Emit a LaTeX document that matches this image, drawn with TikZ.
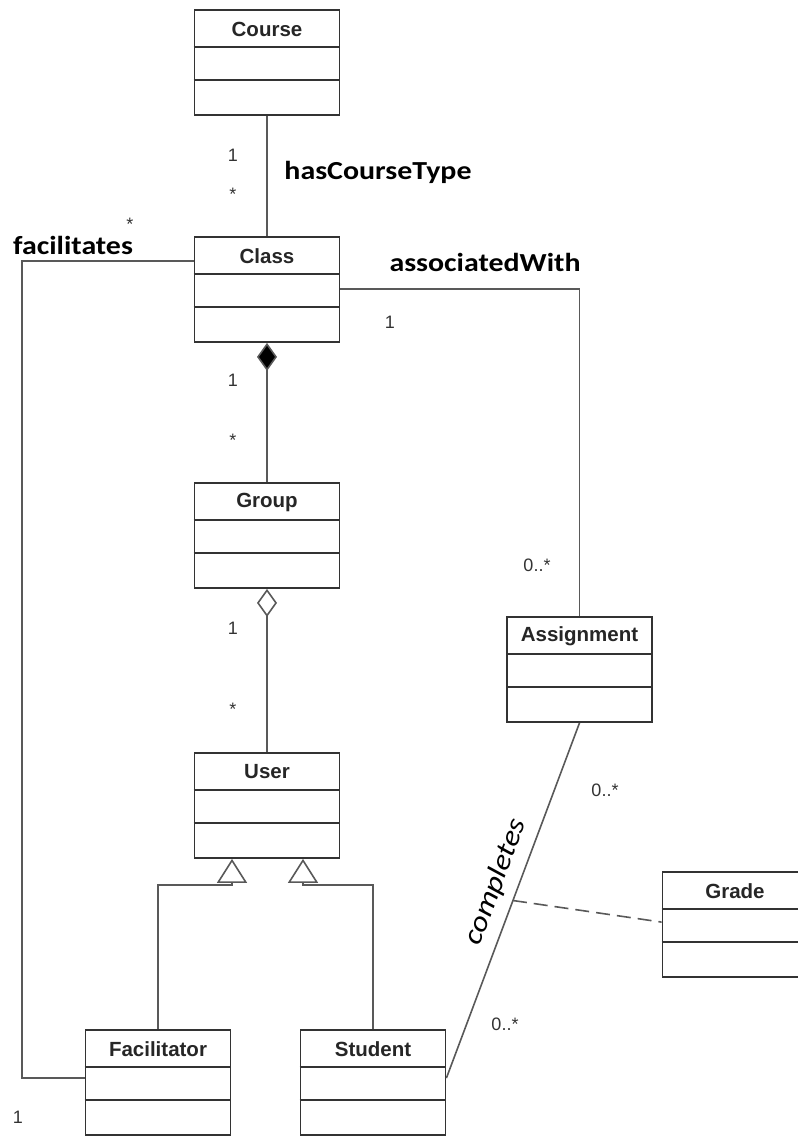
\documentclass[tikz,border=0pt]{standalone}
\usepackage{fontspec}
\setmainfont{Liberation Sans}
\newfontfamily\lblfont[FakeStretch=1.15]{Carlito}
\usetikzlibrary{arrows.meta,calc}
\tikzset{
  clsbox/.style={draw=black!80, line width=1.8pt, minimum width=145pt, minimum height=105pt, inner sep=0pt, fill=white},
  clsline/.style={draw=black!80, line width=1.8pt},
  clstitle/.style={font=\fontsize{20.5}{22}\selectfont\bfseries, text=black!85, inner sep=0pt},
  conn/.style={draw=black!65, line width=1.6pt},
  mult/.style={font=\fontsize{18}{20}\selectfont, text=black!80, inner sep=0pt},
  assoc/.style={font=\lblfont\fontsize{26}{28}\selectfont\bfseries, text=black, inner sep=0pt},
  comp/.style={font=\lblfont\fontsize{28}{30}\selectfont\itshape, text=black, inner sep=0pt},
}
\newcommand{\umlcls}[4]{%
  \node[clsbox] (#1) at (#3, #4+52.5) {};
  \draw[clsline] ([yshift=-38pt]#1.north west) -- ([yshift=-38pt]#1.north east);
  \draw[clsline] ([yshift=-71pt]#1.north west) -- ([yshift=-71pt]#1.north east);
  \node[clstitle] (#1-t) at (#3, #4+19) {#2};
}
\begin{document}
\begin{tikzpicture}[x=1pt, y=-1pt]
\useasboundingbox (0,0) rectangle (798,1136);
\clip (0,0) rectangle (798,1136);
\umlcls{course}{Course}{267}{10}
\umlcls{class}{Class}{267}{237}
\umlcls{group}{Group}{267}{483}
\umlcls{user}{User}{267}{753}
\umlcls{assignment}{Assignment}{579.5}{617}
\umlcls{grade}{Grade}{735}{872}
\umlcls{facilitator}{Facilitator}{158}{1030}
\umlcls{student}{Student}{373}{1030}

\draw[conn] (course.south) -- (class.north);
\draw[conn, -{Diamond[length=28pt, width=20pt, fill=black]}] (group.north) -- (class.south);
\draw[conn, -{Diamond[open, length=28pt, width=20pt, fill=white]}] (user.north) -- (group.south);

\coordinate (ua) at ([xshift=-35pt]user.south);
\coordinate (ub) at ([xshift=36pt]user.south);
\draw[conn, -{Triangle[open, length=24pt, width=30pt, fill=white]}] (facilitator.north) |- ([yshift=-26pt]ua) -- (ua);
\draw[conn, -{Triangle[open, length=24pt, width=30pt, fill=white]}] (student.north) |- ([yshift=-26pt]ub) -- (ub);

\coordinate (fe) at ([yshift=-49pt]facilitator.north west);
\coordinate (fc) at (22,0 |- fe);
\draw[conn] ([yshift=-25pt]class.north west) -| (fc) -- (fe);

\draw[conn] ([yshift=-53pt]class.north east) -| (assignment.north);

\coordinate (sp) at ([yshift=-49pt]student.north east);
\draw[conn] (assignment.south) -- (sp);
\coordinate (cm) at ($(assignment.south)!0.5!(sp)$);
\draw[conn, dashed, dash pattern=on 14pt off 7pt] (cm) -- ([yshift=-51pt]grade.north west);

% labels
\node[mult] (m1) at (233,155) {1};
\node[mult] (m2) at (233,194) {*};
\node[assoc] (l1) at (378,172) {hasCourseType};
\node[assoc] (l2) at (73,245) {facilitates};
\node[mult] (m3) at (130,224) {*};
\node[assoc] (l3) at (485,262) {associatedWith};
\node[mult] (m4) at (390,322) {1};
\node[mult] (m5) at (233,380) {1};
\node[mult] (m6) at (233,440) {*};
\node[mult] (m7) at (233,628) {1};
\node[mult] (m8) at (233,709) {*};
\node[mult] (m9) at (537,565) {0..*};
\node[mult] (m10) at (605,790) {0..*};
\node[mult] (m11) at (505,1024) {0..*};
\node[mult] (m12) at (18,1117) {1};
\node[comp, rotate=69.5] (l4) at (496,882) {completes};
\end{tikzpicture}
\end{document}
